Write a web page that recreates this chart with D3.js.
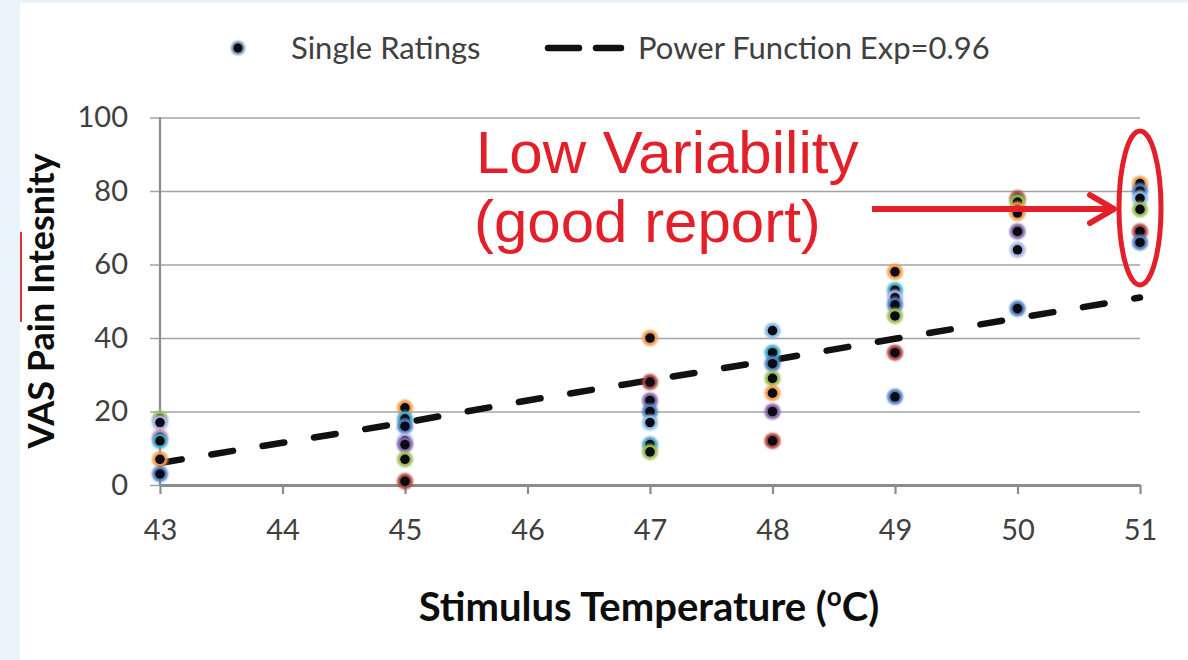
<!DOCTYPE html>
<html>
<head>
<meta charset="utf-8">
<script src="https://cdn.jsdelivr.net/npm/d3@7"></script>
<style>
  body { margin: 0; background: #e8f4fa; }
  svg { display: block; }
</style>
</head>
<body>
<svg id="chart"></svg>
<script>
// stimulus temperatures that were rated
const temps = [43, 45, 47, 48, 49, 50, 51];

// single VAS ratings at each temperature, top to bottom
const ratings = [
  [18, 17, 13, 12, 7, 3],
  [21, 18, 16, 12, 11, 7, 1],
  [40, 28, 23, 20, 17, 11, 9],
  [42, 36, 33, 29, 25, 20, 12],
  [58, 53, 51, 49, 46, 36, 24],
  [78, 77, 75, 74, 69, 64, 48],
  [82, 80, 78, 75, 69, 66]
];

// colour key of the subject behind each rating
const ratingKeys = [
  ['green', 'lavender', 'pink', 'teal', 'orange', 'blue'],
  ['orange', 'teal', 'blue', 'lavender', 'purple', 'green', 'maroon'],
  ['orange', 'maroon', 'purple', 'blue', 'lightblue', 'teal', 'green'],
  ['lightblue', 'teal', 'blue', 'green', 'orange', 'purple', 'maroon'],
  ['orange', 'teal', 'lavender', 'blue', 'green', 'maroon', 'blue'],
  ['maroon', 'green', 'orange', 'orange', 'purple', 'lavender', 'blue'],
  ['orange', 'blue', 'lightblue', 'green', 'maroon', 'blue']
];

// power function fit
const fitTemps = [43, 44, 45, 46, 47, 48, 49, 50, 51];
const fitValues = [6, 11.5, 17, 23, 28.5, 34, 39.8, 45.4, 51];

const xTicks = [43, 44, 45, 46, 47, 48, 49, 50, 51];
const yTicks = [0, 20, 40, 60, 80, 100];

const colors = {
  orange: '#f39b4c',
  teal: '#45aac4',
  blue: '#4f7fbd',
  lavender: '#a7b6e2',
  lightblue: '#8cbbe3',
  purple: '#8466a6',
  green: '#9bbd55',
  maroon: '#a9443e',
  pink: '#c98aa8'
};

const W = 1188, H = 660;
const font = 'Lato, "Open Sans", sans-serif';
const red = '#e3202a';

const svg = d3.select('#chart').attr('width', W).attr('height', H);

svg.append('rect').attr('width', W).attr('height', H).attr('fill', '#e8f4fa');
svg.append('rect').attr('x', 20).attr('y', 3).attr('width', W - 20).attr('height', H - 3).attr('fill', '#fff');
// little red edge mark on the left border
svg.append('line')
  .attr('x1', 21).attr('x2', 21).attr('y1', 232).attr('y2', 322)
  .attr('stroke', '#e0303a').attr('stroke-width', 2);

const defs = svg.append('defs');
defs.append('filter').attr('id', 'soft')
  .attr('x', '-50%').attr('y', '-50%').attr('width', '200%').attr('height', '200%')
  .append('feGaussianBlur').attr('stdDeviation', 0.9);

const x = d3.scaleLinear().domain([43, 51]).range([160, 1140]);
const y = d3.scaleLinear().domain([0, 100]).range([485, 117.5]);

// gridlines + y labels (axis anchored on the right so ticks run across)
const yAxis = svg.append('g')
  .attr('transform', `translate(${x(51)},0)`)
  .call(d3.axisLeft(y).tickValues(yTicks).tickSize(x(51) - x(43) + 10).tickPadding(22));
yAxis.select('.domain').remove();
yAxis.selectAll('.tick line').attr('stroke', '#a3a3a3').attr('stroke-width', 1.6);
yAxis.selectAll('.tick text')
  .attr('font-family', font).attr('font-size', 29).attr('fill', '#404040');

svg.append('line')
  .attr('x1', x(43)).attr('x2', x(43)).attr('y1', y(100)).attr('y2', y(0))
  .attr('stroke', '#8c8c8c').attr('stroke-width', 2.2);

const xAxis = svg.append('g')
  .attr('transform', `translate(0,${y(0)})`)
  .call(d3.axisBottom(x).tickValues(xTicks).tickSizeInner(9).tickSizeOuter(0).tickPadding(25).tickFormat(d3.format('d')));
xAxis.select('.domain').attr('stroke', '#8c8c8c').attr('stroke-width', 3);
xAxis.selectAll('.tick line').attr('stroke', '#8c8c8c').attr('stroke-width', 2.2);
xAxis.selectAll('.tick text')
  .attr('font-family', font).attr('font-size', 29).attr('fill', '#404040');

// dashed fit line
const fit = fitTemps.map((t, i) => ({ t, v: fitValues[i] }));
svg.append('path')
  .datum(fit)
  .attr('d', d3.line().x(d => x(d.t)).y(d => y(d.v)))
  .attr('fill', 'none')
  .attr('stroke', '#111')
  .attr('stroke-width', 6.5)
  .attr('stroke-linecap', 'round')
  .attr('stroke-dasharray', '22,30');

// single ratings
const points = [];
temps.forEach((t, i) => {
  ratings[i].forEach((v, j) => points.push({ t, v, key: ratingKeys[i][j] }));
});

const dots = svg.append('g').attr('class', 'points')
  .selectAll('g')
  .data(points)
  .enter()
  .append('g')
  .attr('transform', d => `translate(${x(d.t)},${y(d.v)})`);

dots.append('circle')
  .attr('r', 8)
  .attr('fill', d => colors[d.key])
  .attr('filter', 'url(#soft)');
dots.append('circle')
  .attr('r', 4.8)
  .attr('fill', '#0a0a14');

// legend
const legend = svg.append('g').attr('font-family', font).attr('font-size', 31).attr('fill', '#404040');
legend.append('circle').attr('cx', 238).attr('cy', 48).attr('r', 7).attr('fill', '#6d86a8').attr('filter', 'url(#soft)');
legend.append('circle').attr('cx', 238).attr('cy', 48).attr('r', 4.5).attr('fill', '#0a0a14');
legend.append('text').attr('x', 291).attr('y', 59).text('Single Ratings');
legend.append('line')
  .attr('x1', 548).attr('x2', 621).attr('y1', 48).attr('y2', 48)
  .attr('stroke', '#111').attr('stroke-width', 6.5)
  .attr('stroke-linecap', 'round').attr('stroke-dasharray', '31,17');
legend.append('text').attr('x', 638).attr('y', 59).text('Power Function Exp=0.96');

// axis titles
const xTitle = svg.append('text')
  .attr('x', 649).attr('y', 621)
  .attr('text-anchor', 'middle')
  .attr('font-family', font).attr('font-weight', 'bold').attr('font-size', 40)
  .attr('fill', '#0d0d0d');
xTitle.append('tspan').text('Stimulus Temperature (');
xTitle.append('tspan').attr('dy', -15).attr('font-size', 26).text('o');
xTitle.append('tspan').attr('dy', 15).text('C)');

svg.append('text')
  .attr('transform', 'translate(54,301) rotate(-90)')
  .attr('text-anchor', 'middle')
  .attr('font-family', font).attr('font-weight', 'bold').attr('font-size', 36)
  .attr('fill', '#0d0d0d')
  .text('VAS Pain Intesnity');

// annotation
const note = svg.append('g').attr('fill', red).attr('font-family', '"Liberation Sans", Arial, sans-serif').attr('font-size', 60);
note.append('text').attr('x', 476).attr('y', 173).text('Low Variability');
note.append('text').attr('x', 474).attr('y', 242).text('(good report)');

const ay = 209;
svg.append('line')
  .attr('x1', 872).attr('x2', x(51) - 28).attr('y1', ay).attr('y2', ay)
  .attr('stroke', red).attr('stroke-width', 6);
svg.append('polyline')
  .attr('points', `${x(51) - 50},${ay - 14} ${x(51) - 26},${ay} ${x(51) - 50},${ay + 14}`)
  .attr('fill', 'none').attr('stroke', red).attr('stroke-width', 6)
  .attr('stroke-linecap', 'round').attr('stroke-linejoin', 'round');
svg.append('ellipse')
  .attr('cx', x(51)).attr('cy', 208).attr('rx', 21).attr('ry', 77)
  .attr('fill', 'none').attr('stroke', red).attr('stroke-width', 5);
</script>
</body>
</html>
